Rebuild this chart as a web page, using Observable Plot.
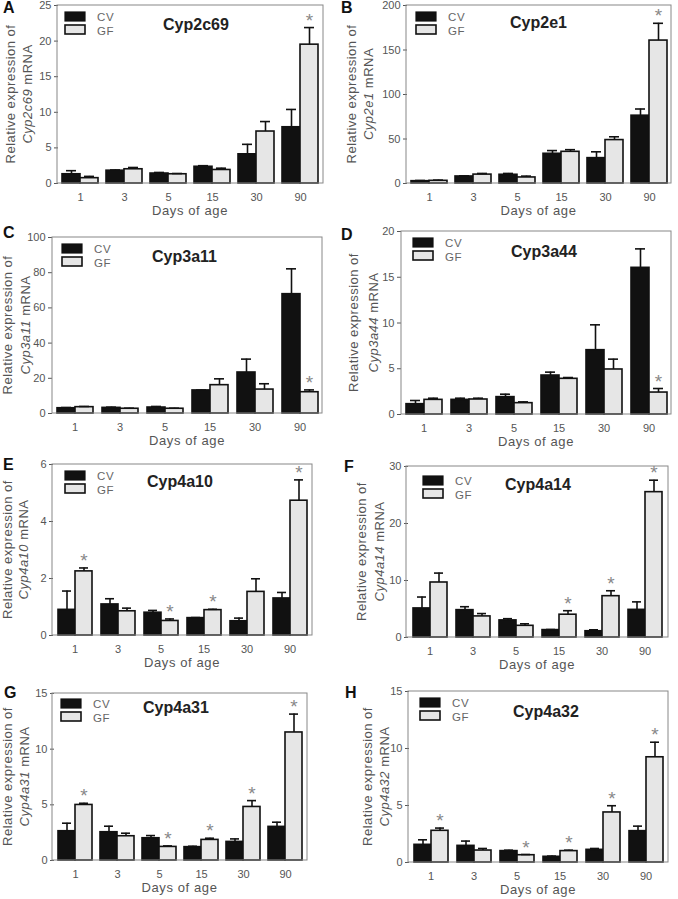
<!DOCTYPE html>
<html><head><meta charset="utf-8">
<script src="https://cdn.jsdelivr.net/npm/d3@7"></script>
<script src="https://cdn.jsdelivr.net/npm/@observablehq/plot@0.6"></script>
<style>
body{margin:0;background:#fff;}
#wrap{position:relative;width:678px;height:899px;overflow:hidden;font-family:"Liberation Sans",Arial,sans-serif;}
.panel{position:absolute;}
</style></head><body><div id="wrap"></div>
<script>
// ---- data ----
const days = ["1", "3", "5", "15", "30", "90"];
const groups = ["CV", "GF"];

const cyp2c69CV = [1.3, 1.8, 1.4, 2.35, 4.1, 7.9];
const cyp2c69CVsem = [0.5, 0.1, 0.15, 0.15, 1.4, 2.5];
const cyp2c69GF = [0.75, 2.0, 1.3, 1.9, 7.3, 19.5];
const cyp2c69GFsem = [0.25, 0.25, 0.1, 0.25, 1.4, 2.4];
const cyp2c69Stars = ["90"];
const cyp2c69Ticks = [0, 5, 10, 15, 20, 25];

const cyp2e1CV = [2.6, 7.9, 9.8, 33.4, 28.5, 76.2];
const cyp2e1CVsem = [0.8, 0.7, 1.5, 3.6, 7.1, 7.5];
const cyp2e1GF = [3, 10, 6.8, 35.6, 48.8, 160.6];
const cyp2e1GFsem = [0.8, 1.3, 1.5, 2.4, 3.7, 19.4];
const cyp2e1Stars = ["90"];
const cyp2e1Ticks = [0, 50, 100, 150, 200];

const cyp3a11CV = [3.0, 3.2, 3.4, 13.1, 23.3, 67.8];
const cyp3a11CVsem = [0.4, 0.4, 0.6, 0.2, 7.6, 14.4];
const cyp3a11GF = [3.6, 2.7, 2.7, 16.1, 13.6, 12.1];
const cyp3a11GFsem = [0.4, 0.3, 0.3, 3.6, 3.3, 1.3];
const cyp3a11Stars = ["90"];
const cyp3a11Ticks = [0, 20, 40, 60, 80, 100];

const cyp3a44CV = [1.13, 1.6, 1.9, 4.26, 7.03, 16.03];
const cyp3a44CVsem = [0.4, 0.18, 0.32, 0.37, 2.77, 2.07];
const cyp3a44GF = [1.6, 1.64, 1.24, 3.9, 4.92, 2.4];
const cyp3a44GFsem = [0.18, 0.14, 0.14, 0.14, 1.13, 0.44];
const cyp3a44Stars = ["90"];
const cyp3a44Ticks = [0, 5, 10, 15, 20];

const cyp4a10CV = [0.9, 1.09, 0.8, 0.61, 0.5, 1.3];
const cyp4a10CVsem = [0.66, 0.2, 0.08, 0.02, 0.11, 0.21];
const cyp4a10GF = [2.25, 0.85, 0.51, 0.89, 1.53, 4.73];
const cyp4a10GFsem = [0.12, 0.11, 0.07, 0.03, 0.46, 0.73];
const cyp4a10Stars = ["1", "5", "15", "90"];
const cyp4a10Ticks = [0, 2, 4, 6];

const cyp4a14CV = [5.1, 4.8, 3.0, 1.3, 1.1, 4.85];
const cyp4a14CVsem = [2.0, 0.6, 0.3, 0.1, 0.25, 1.4];
const cyp4a14GF = [9.65, 3.7, 2.05, 4.0, 7.25, 25.5];
const cyp4a14GFsem = [1.65, 0.5, 0.35, 0.7, 0.95, 2.1];
const cyp4a14Stars = ["15", "30", "90"];
const cyp4a14Ticks = [0, 10, 20, 30];

const cyp4a31CV = [2.63, 2.54, 2.0, 1.2, 1.67, 3.02];
const cyp4a31CVsem = [0.72, 0.54, 0.24, 0.08, 0.27, 0.42];
const cyp4a31GF = [4.99, 2.18, 1.22, 1.85, 4.81, 11.5];
const cyp4a31GFsem = [0.15, 0.27, 0.09, 0.15, 0.57, 1.65];
const cyp4a31Stars = ["1", "5", "15", "30", "90"];
const cyp4a31Ticks = [0, 5, 10, 15];

const cyp4a32CV = [1.55, 1.46, 1.0, 0.5, 1.11, 2.75];
const cyp4a32CVsem = [0.44, 0.42, 0.08, 0.06, 0.12, 0.44];
const cyp4a32GF = [2.78, 1.05, 0.64, 1.0, 4.39, 9.23];
const cyp4a32GFsem = [0.24, 0.18, 0.06, 0.08, 0.59, 1.32];
const cyp4a32Stars = ["1", "5", "15", "30", "90"];
const cyp4a32Ticks = [0, 5, 10, 15];

// ---- layout (page coordinates of each plot frame) ----
const panels = [
  {letter:"A", gene:"Cyp2c69", cv:cyp2c69CV, cvs:cyp2c69CVsem, gf:cyp2c69GF, gfs:cyp2c69GFsem, stars:cyp2c69Stars, ticks:cyp2c69Ticks,
   col:0, fl:57, fr:323, ft:5, fb:183, lab:[-47,-30], leg:[8,7], ttl:[106,25], L:[3,13]},
  {letter:"B", gene:"Cyp2e1", cv:cyp2e1CV, cvs:cyp2e1CVsem, gf:cyp2e1GF, gfs:cyp2e1GFsem, stars:cyp2e1Stars, ticks:cyp2e1Ticks,
   col:338, fl:406, fr:671, ft:5, fb:183, lab:[-55,-38], leg:[10,7], ttl:[104,23], L:[341,13]},
  {letter:"C", gene:"Cyp3a11", cv:cyp3a11CV, cvs:cyp3a11CVsem, gf:cyp3a11GF, gfs:cyp3a11GFsem, stars:cyp3a11Stars, ticks:cyp3a11Ticks,
   col:0, fl:52, fr:322, ft:237, fb:413, lab:[-45,-27], leg:[10,7], ttl:[100,25], L:[3,238]},
  {letter:"D", gene:"Cyp3a44", cv:cyp3a44CV, cvs:cyp3a44CVsem, gf:cyp3a44GF, gfs:cyp3a44GFsem, stars:cyp3a44Stars, ticks:cyp3a44Ticks,
   col:338, fl:401, fr:671, ft:231, fb:414, lab:[-48,-28], leg:[12,7], ttl:[110,26], L:[341,240]},
  {letter:"E", gene:"Cyp4a10", cv:cyp4a10CV, cvs:cyp4a10CVsem, gf:cyp4a10GF, gfs:cyp4a10GFsem, stars:cyp4a10Stars, ticks:cyp4a10Ticks,
   col:0, fl:52, fr:312, ft:464, fb:635, lab:[-45,-29], leg:[13,7], ttl:[95,23], L:[3,470]},
  {letter:"F", gene:"Cyp4a14", cv:cyp4a14CV, cvs:cyp4a14CVsem, gf:cyp4a14GF, gfs:cyp4a14GFsem, stars:cyp4a14Stars, ticks:cyp4a14Ticks,
   col:338, fl:406, fr:668, ft:466, fb:637, lab:[-45,-27], leg:[17,10], ttl:[99,24], L:[344,472]},
  {letter:"G", gene:"Cyp4a31", cv:cyp4a31CV, cvs:cyp4a31CVsem, gf:cyp4a31GF, gfs:cyp4a31GFsem, stars:cyp4a31Stars, ticks:cyp4a31Ticks,
   col:0, fl:52, fr:307, ft:693, fb:860, lab:[-45,-28], leg:[9,6], ttl:[91,20], L:[4,698]},
  {letter:"H", gene:"Cyp4a32", cv:cyp4a32CV, cvs:cyp4a32CVsem, gf:cyp4a32GF, gfs:cyp4a32GFsem, stars:cyp4a32Stars, ticks:cyp4a32Ticks,
   col:338, fl:408, fr:668, ft:691, fb:862, lab:[-41,-24], leg:[12,7], ttl:[105,26], L:[345,698]}
];

const wrap = document.getElementById("wrap");
const MT = 12, MB = 40, PW = 340;
const FONT = "'Liberation Sans', Arial, sans-serif";

for (const p of panels) {
  const rows = days.flatMap((d, i) => [
    {day: d, group: "CV", value: p.cv[i], top: p.cv[i] + p.cvs[i], star: false},
    {day: d, group: "GF", value: p.gf[i], top: p.gf[i] + p.gfs[i], star: p.stars.includes(d)}
  ]);
  const mL = p.fl - p.col, mR = p.col + PW - p.fr;
  const H = (p.fb - p.ft) + MT + MB;
  const ymax = p.ticks[p.ticks.length - 1];
  const svg = Plot.plot({
    width: PW, height: H,
    marginLeft: mL, marginRight: mR, marginTop: MT, marginBottom: MB,
    style: {background: "transparent", overflow: "visible", fontFamily: FONT, fontSize: "11px", color: "#555"},
    fx: {domain: days, padding: 0, label: null, tickSize: 0, tickPadding: 10},
    x: {domain: groups, axis: null, paddingInner: 0, paddingOuter: 0.21},
    y: {domain: [0, ymax], ticks: p.ticks, tickFormat: d => String(d), tickSize: 4, tickPadding: 3, label: null},
    color: {domain: groups, range: ["#111", "#e6e6e6"]},
    marks: [
      Plot.barY(rows, {fx: "day", x: "group", y: "value", fill: "group", stroke: "#111", strokeWidth: 1.6}),
      Plot.ruleX(rows, {fx: "day", x: "group", y1: "value", y2: "top", stroke: "#111", strokeWidth: 1.6}),
      Plot.tickY(rows, {fx: "day", x: "group", y: "top", stroke: "#111", strokeWidth: 1.6, insetLeft: 4, insetRight: 4}),
      Plot.text(rows.filter(r => r.star), {fx: "day", x: "group", y: "top", text: () => "*", dy: -7, fill: "#888", fontSize: 19})
    ]
  });
  const div = document.createElement("div");
  div.className = "panel";
  div.style.left = p.col + "px";
  div.style.top = (p.ft - MT) + "px";
  div.appendChild(svg);
  wrap.appendChild(div);

  const s = d3.select(svg);
  const fw = PW - mL - mR, fh = p.fb - p.ft;
  // frame
  s.append("rect").attr("x", mL).attr("y", MT).attr("width", fw).attr("height", fh)
    .attr("fill", "none").attr("stroke", "#888").attr("stroke-width", 1);
  // legend
  const lx = mL + p.leg[0], ly = MT + p.leg[1];
  s.append("rect").attr("x", lx).attr("y", ly).attr("width", 20).attr("height", 9).attr("fill", "#111").attr("stroke", "#111").attr("stroke-width", 1.2);
  s.append("rect").attr("x", lx).attr("y", ly + 13).attr("width", 20).attr("height", 9).attr("fill", "#e6e6e6").attr("stroke", "#111").attr("stroke-width", 1.6);
  s.append("text").attr("x", lx + 32).attr("y", ly + 9).attr("text-anchor", "start").attr("fill", "#666")
    .attr("font-size", 11.5).attr("letter-spacing", 0.6).text("CV");
  s.append("text").attr("x", lx + 32).attr("y", ly + 22.5).attr("text-anchor", "start").attr("fill", "#666")
    .attr("font-size", 11.5).attr("letter-spacing", 0.6).text("GF");
  // title
  s.append("text").attr("x", mL + p.ttl[0]).attr("y", MT + p.ttl[1]).attr("text-anchor", "start").attr("fill", "#222")
    .attr("font-size", 16).attr("font-weight", "bold").text(p.gene);
  // y label
  const cy = MT + fh / 2;
  s.append("text").attr("transform", `translate(${mL + p.lab[0]},${cy}) rotate(-90)`).attr("dy", "0.35em")
    .attr("text-anchor", "middle").attr("fill", "#555").attr("font-size", 13).attr("letter-spacing", 0.5)
    .text("Relative expression of");
  const t2 = s.append("text").attr("transform", `translate(${mL + p.lab[1]},${cy}) rotate(-90)`).attr("dy", "0.35em")
    .attr("text-anchor", "middle").attr("fill", "#555").attr("font-size", 13).attr("letter-spacing", 0.5);
  t2.append("tspan").attr("font-style", "italic").text(p.gene);
  t2.append("tspan").text(" mRNA");
  // x label
  s.append("text").attr("x", mL + fw / 2).attr("y", MT + fh + 32).attr("text-anchor", "middle")
    .attr("fill", "#555").attr("font-size", 13).attr("letter-spacing", 0.6).text("Days of age");
}

// panel letters
const ov = d3.select(wrap).append("svg").attr("width", 678).attr("height", 899)
  .style("position", "absolute").style("left", 0).style("top", 0).style("pointer-events", "none");
for (const p of panels) {
  ov.append("text").attr("x", p.L[0]).attr("y", p.L[1]).attr("font-family", FONT)
    .attr("font-size", 16).attr("font-weight", "bold").attr("fill", "#111").text(p.letter);
}
</script></body></html>
